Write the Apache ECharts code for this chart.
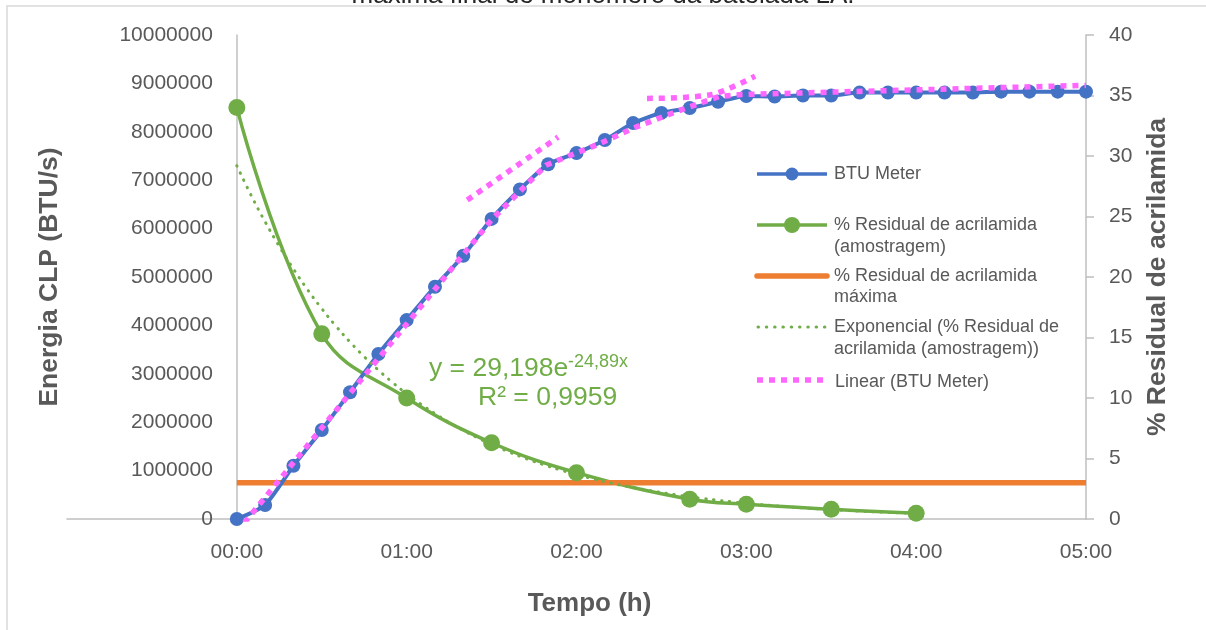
<!DOCTYPE html>
<html><head><meta charset="utf-8">
<script src="https://cdn.jsdelivr.net/npm/echarts@6/dist/echarts.min.js"></script>
<style>html,body{margin:0;padding:0;background:#fff}#c{width:1206px;height:630px}</style>
</head><body><div id="c"></div>
<script>
// ---- data ----
const btuTime = ["00:00","00:10","00:20","00:30","00:40","00:50","01:00","01:10","01:20","01:30","01:40","01:50","02:00","02:10","02:20","02:30","02:40","02:50","03:00","03:10","03:20","03:30","03:40","03:50","04:00","04:10","04:20","04:30","04:40","04:50","05:00"];
const btuEnergy = [0,290000,1100000,1840000,2620000,3410000,4110000,4800000,5440000,6200000,6810000,7330000,7560000,7830000,8180000,8390000,8490000,8620000,8740000,8730000,8750000,8750000,8810000,8810000,8810000,8810000,8810000,8830000,8830000,8830000,8830000];

const residualTime = ["00:00","00:30","01:00","01:30","02:00","02:40","03:00","03:30","04:00"];
const residualPct = [34.0,15.3,10.0,6.3,3.83,1.63,1.21,0.80,0.47];

const maxResidualTime = ["00:00","05:00"];
const maxResidualPct = [3,3];

// exponential trendline shown on the chart: y = 29,198 e^(-24,89 x), x in days
const expCoefA = 29.198;
const expCoefB = -24.89;
const expTrendStart = "00:00", expTrendEnd = "04:00";

// pink "Linear (BTU Meter)" dotted pieces as seen in the picture
const linTrendATime = ["00:00","01:30","01:49.2","02:08.4","02:19.8","02:35.4","02:50.4","02:58.2","05:00"];
const linTrendAVal  = [-270000,6180000,7310000,7760000,8070000,8420000,8730000,8770000,8960000];
const linTrendBTime = ["01:21.4","01:53.5"];
const linTrendBVal  = [6590000,7890000];
const linTrendCTime = ["02:24.9","02:47.8","03:03.1"];
const linTrendCVal  = [8690000,8770000,9150000];

const xTicks = ["00:00","01:00","02:00","03:00","04:00","05:00"];
const xMin = -1, xMax = 5;

// ---- helpers ----
function toHours(s){const p=s.split(':');return (+p[0]) + (+p[1])/60;}
function pairs(t,v){return t.map((s,i)=>[toHours(s), v[i]]);}
function fmtHour(v){ if(v<0) return ''; const i=Math.round(v); return xTicks[i]!==undefined?xTicks[i]:''; }
const expTrend = [];
for(let m=toHours(expTrendStart)*60; m<=toHours(expTrendEnd)*60+1e-9; m+=5){
  const h=m/60; expTrend.push([h, expCoefA*Math.exp(expCoefB*h/24)]);
}

const FONT = '"Liberation Sans", Arial, sans-serif';
const GRAY = '#595959';
const AXIS = '#BFBFBF';
const BLUE = '#4472C4', GREEN = '#70AD47', ORANGE = '#ED7D31', PINK = '#FF66FF';
const W = 1206, GL = 67, GR = 120;
// left value axis crosses the time axis at 00:00
const yAxisShift = -(W-GL-GR)*(0-xMin)/(xMax-xMin);

const chart = echarts.init(document.getElementById('c'), null, {renderer:'canvas'});

function lg(x1,y,x2,color,w,dash,cap){
  return {type:'line', shape:{x1:x1,y1:y,x2:x2,y2:y}, style:{stroke:color, lineWidth:w, lineDash:dash||null, lineCap:cap||'butt'}, silent:true, z:10};
}
function txt(x,y,t,opt){
  return Object.assign({type:'text', x:x, y:y, style:Object.assign({text:t, fill:GRAY, font:'18px '+FONT, verticalAlign:'middle', align:'left'}, opt||{}), silent:true, z:10});
}

const option = {
  animation:false,
  backgroundColor:'#fff',
  grid:{left:GL, right:GR, top:35, bottom:111, containLabel:false, outerBoundsMode:'none'},
  xAxis:{
    type:'value', min:xMin, max:xMax, interval:1,
    axisLine:{show:true, onZero:false, lineStyle:{color:AXIS, width:1.5}},
    axisTick:{show:false}, splitLine:{show:false},
    axisLabel:{formatter:fmtHour, color:GRAY, fontSize:21, fontFamily:FONT, margin:23},
    name:'Tempo (h)', nameLocation:'middle', nameGap:72,
    nameTextStyle:{color:GRAY, fontSize:26, fontWeight:'bold', fontFamily:FONT, padding:[0,0,0,26]}
  },
  yAxis:[{
    type:'value', min:0, max:10000000, interval:1000000, position:'left', offset:yAxisShift,
    axisLine:{show:true, onZero:false, lineStyle:{color:AXIS, width:1.5}},
    axisTick:{show:false}, splitLine:{show:false},
    axisLabel:{formatter:v=>String(v), color:GRAY, fontSize:21, fontFamily:FONT, margin:24},
    name:'Energia CLP (BTU/s)', nameLocation:'middle', nameGap:174, nameRotate:90,
    nameTextStyle:{color:GRAY, fontSize:26.5, fontWeight:'bold', fontFamily:FONT}
  },{
    type:'value', min:0, max:40, interval:5, position:'right',
    axisLine:{show:true, onZero:false, lineStyle:{color:AXIS, width:1.5}},
    axisTick:{show:true, length:8, lineStyle:{color:AXIS, width:1.5}}, splitLine:{show:false},
    axisLabel:{color:GRAY, fontSize:21, fontFamily:FONT, margin:23},
    name:'% Residual de acrilamida', nameLocation:'middle', nameGap:58, nameRotate:90,
    nameTextStyle:{color:GRAY, fontSize:26.5, fontWeight:'bold', fontFamily:FONT}
  }],
  series:[
    {name:'% Residual de acrilamida (amostragem)', type:'line', yAxisIndex:1, data:pairs(residualTime,residualPct),
      smooth:0.4, symbol:'circle', symbolSize:17, itemStyle:{color:GREEN}, lineStyle:{color:GREEN, width:3.5}, z:2},
    {name:'% Residual de acrilamida máxima', type:'line', yAxisIndex:1, data:pairs(maxResidualTime,maxResidualPct),
      symbol:'none', lineStyle:{color:ORANGE, width:5.5}, z:2},
    {name:'BTU Meter', type:'line', yAxisIndex:0, data:pairs(btuTime,btuEnergy),
      smooth:0.2, symbol:'circle', symbolSize:14, itemStyle:{color:BLUE}, lineStyle:{color:BLUE, width:4}, z:3},
    {name:'Exponencial (% Residual de acrilamida (amostragem))', type:'line', yAxisIndex:1, data:expTrend,
      symbol:'none', smooth:true, lineStyle:{color:GREEN, width:3, type:[0.5,7.5], cap:'round'}, z:4},
    {name:'Linear (BTU Meter)', type:'line', yAxisIndex:0, data:pairs(linTrendATime,linTrendAVal),
      symbol:'none', lineStyle:{color:PINK, width:5.5, type:[6,6]}, z:5},
    {name:'Linear (BTU Meter)', type:'line', yAxisIndex:0, data:pairs(linTrendBTime,linTrendBVal),
      symbol:'none', lineStyle:{color:PINK, width:5.5, type:[6,6]}, z:5},
    {name:'Linear (BTU Meter)', type:'line', yAxisIndex:0, data:pairs(linTrendCTime,linTrendCVal),
      symbol:'none', smooth:0.3, lineStyle:{color:PINK, width:5.5, type:[6,6]}, z:5}
  ],
  graphic:[
    {type:'rect', shape:{x:7, y:6, width:1300, height:700}, style:{fill:null, stroke:'#D9D9D9', lineWidth:1.5}, silent:true, z:0},
    txt(603,-4.5,'máxima final de monômero da batelada LA.',{font:'26px '+FONT, align:'center', fill:'#262626'}),
    // legend
    lg(757,174,827,BLUE,3.5),
    {type:'circle', shape:{cx:792, cy:174, r:6.5}, style:{fill:BLUE}, silent:true, z:11},
    txt(834,174,'BTU Meter'),
    lg(757,225,827,GREEN,3.5),
    {type:'circle', shape:{cx:792, cy:225, r:8}, style:{fill:GREEN}, silent:true, z:11},
    txt(834,236,'% Residual de acrilamida\n(amostragem)',{lineHeight:22}),
    lg(757,276,827,ORANGE,5.5,null,'round'),
    txt(834,287,'% Residual de acrilamida\nmáxima',{lineHeight:21}),
    lg(758,327,827,GREEN,3,[0.5,7.8],'round'),
    txt(834,338,'Exponencial (% Residual de\nacrilamida (amostragem))',{lineHeight:22}),
    lg(757,380,823,PINK,5.5,[6,6]),
    txt(835,382,'Linear (BTU Meter)'),
    // trendline equation
    txt(429,368.5,'y = 29,198e',{fill:GREEN, font:'26.5px '+FONT}),
    txt(568,362.5,'-24,89x',{fill:GREEN, font:'18px '+FONT}),
    txt(478,397.5,'R² = 0,9959',{fill:GREEN, font:'26.5px '+FONT})
  ]
};
chart.setOption(option);
</script></body></html>
